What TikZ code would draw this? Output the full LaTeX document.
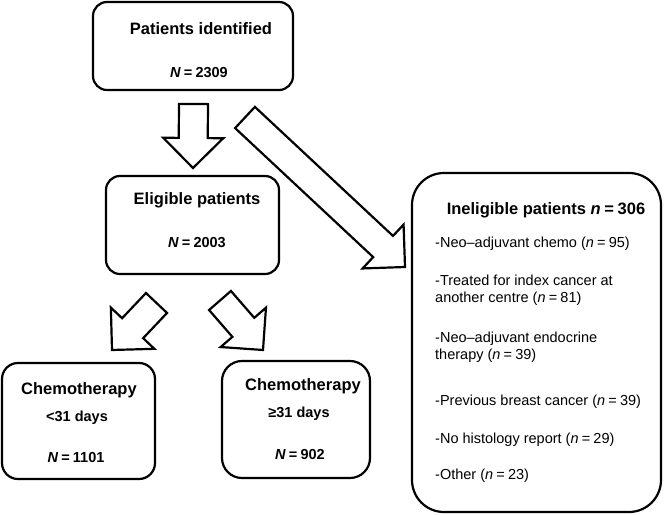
\documentclass[tikz,border=0pt]{standalone}
\usepackage{fontspec}
\setmainfont{Liberation Sans}
\usepackage{tikz}
\usetikzlibrary{calc}

\newcommand{\eq}{\hspace{0.22em}=\hspace{0.22em}}

% hollow block arrow from #1 (tail) to #2 (tip)
\newcommand{\blockarrow}[2]{%
  \path (#1); \pgfgetlastxy{\bax}{\bay}%
  \path (#2); \pgfgetlastxy{\bbx}{\bby}%
  \pgfmathsetmacro{\bang}{atan2(\bby-\bay,\bbx-\bax)}%
  \pgfmathsetmacro{\blen}{veclen(\bbx-\bax,\bby-\bay)}%
  \draw[fat,shift={(#1)},rotate=\bang]
    (0pt,-14.5pt) -- ({\blen pt-30pt},-14.5pt) -- ({\blen pt-30pt},-30pt)
    -- (\blen pt,0pt) -- ({\blen pt-30pt},30pt) -- ({\blen pt-30pt},14.5pt)
    -- (0pt,14.5pt) -- cycle;}

\begin{document}
\begin{tikzpicture}[x=1pt,y=1pt]
          \tikzstyle{box}=[draw,line width=2.2pt,inner sep=0pt]
          \tikzstyle{fat}=[draw,line width=2.2pt,line join=miter,fill=white]
          \tikzstyle{head}=[inner sep=0pt,anchor=base,font=\bfseries\fontsize{16.5}{19}\selectfont]
          \tikzstyle{count}=[inner sep=0pt,anchor=base,font=\bfseries\fontsize{14.5}{17}\selectfont]
          \tikzstyle{reason}=[inner sep=0pt,anchor=base west,align=left,font=\fontsize{14.5}{17.5}\selectfont]

          \useasboundingbox (0,0) rectangle (666,514);

          \begin{scope}
            % boxes
            \node[box,rounded corners=14pt,minimum width=200pt,minimum height=88pt](ident) at (193,468){};
            \node[box,rounded corners=14pt,minimum width=173pt,minimum height=98pt](elig) at (192.5,289){};
            \node[box,rounded corners=16pt,minimum width=153pt,minimum height=116pt](early) at (78.5,93){};
            \node[box,rounded corners=20pt,minimum width=148pt,minimum height=117pt](late) at (296,94.5){};
            \node[box,rounded corners=32pt,minimum width=249pt,minimum height=339pt](inel) at (536.5,171.5){};

            % texts
            \node[head](identT) at (201,479){Patients identified};
            \node[count](identN) at (199,436){{\itshape N}\eq 2309};
            \node[head](eligT) at (197,309){Eligible patients};
            \node[count](eligN) at (197,266){{\itshape N}\eq 2003};
            \node[head](earlyT) at (79,119){Chemotherapy};
            \node[count](earlyD) at (77,93){<31 days};
            \node[count](earlyN) at (76,52){{\itshape N}\eq 1101};
            \node[head](lateT) at (303,124){Chemotherapy};
            \node[count](lateD) at (299,97){≥31 days};
            \node[count](lateN) at (300,55){{\itshape N}\eq 902};
            \node[head](inelT) at (546,299){Ineligible patients {\itshape n}\eq 306};

            \node[reason](r1) at (435,266){-Neo–adjuvant chemo ({\itshape n}\eq 95)};
            \node[reason](r2) at (435,211){-Treated for index cancer at\\another centre ({\itshape n}\eq 81)};
            \node[reason](r3) at (435,154){-Neo–adjuvant endocrine\\therapy ({\itshape n}\eq 39)};
            \node[reason](r4) at (435,109){-Previous breast cancer ({\itshape n}\eq 39)};
            \node[reason](r5) at (435,71){-No histology report ({\itshape n}\eq 29)};
            \node[reason](r6) at (435,35){-Other ({\itshape n}\eq 23)};

            % arrow ends
            \coordinate (a1) at (193.5,410);
            \coordinate (b1) at (193,346);
            \coordinate (a2) at (245,396.5);
            \coordinate (b2) at (405,247);
            \coordinate (a3) at (156.5,211);
            \coordinate (b3) at (112,164);
            \coordinate (a4) at (220,213.5);
            \coordinate (b4) at (263,164);

            \blockarrow{a1}{b1}
            \blockarrow{a2}{b2}
            \blockarrow{a3}{b3}
            \blockarrow{a4}{b4}
          \end{scope}
        \end{tikzpicture}
\end{document}
